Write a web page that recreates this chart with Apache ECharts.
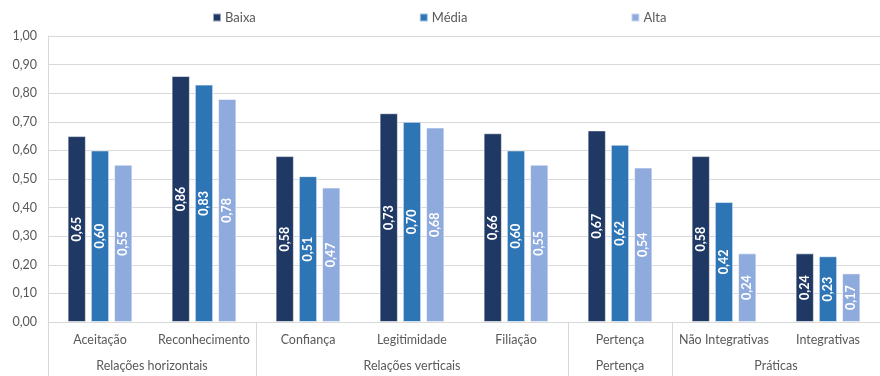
<!DOCTYPE html>
<html>
<head>
<meta charset="utf-8">
<script src="https://cdn.jsdelivr.net/npm/echarts@6/dist/echarts.min.js"></script>
<style>
  html, body { margin: 0; padding: 0; background: #fff; }
  #chart { width: 880px; height: 376px; }
</style>
</head>
<body>
<div id="chart"></div>
<script>
// Subcategories along the x axis and the group each one belongs to
const categories = ['Aceitação', 'Reconhecimento', 'Confiança', 'Legitimidade', 'Filiação', 'Pertença', 'Não Integrativas', 'Integrativas'];
const groupNames = ['Relações horizontais', 'Relações verticais', 'Pertença', 'Práticas'];
const groupSizes = [2, 3, 1, 2];

// Series values
const seriesNames = ['Baixa', 'Média', 'Alta'];
const baixa = [0.65, 0.86, 0.58, 0.73, 0.66, 0.67, 0.58, 0.24];
const media = [0.60, 0.83, 0.51, 0.70, 0.60, 0.62, 0.42, 0.23];
const alta  = [0.55, 0.78, 0.47, 0.68, 0.55, 0.54, 0.24, 0.17];

// Y-axis ticks
const yTicks = [0, 0.1, 0.2, 0.3, 0.4, 0.5, 0.6, 0.7, 0.8, 0.9, 1.0];

const colors = ['#203864', '#2E75B6', '#8FAADC'];
const FONT = 'Lato';
const GREY = '#595959';
const LINE = '#D9D9D9';

// Group boundaries and centers in category units
const groupBounds = [0];
const groupCenters = [];
groupSizes.forEach(function (n) {
  const start = groupBounds[groupBounds.length - 1];
  groupCenters.push(start + n / 2);
  groupBounds.push(start + n);
});

const fmt = function (v) { return v.toFixed(2).replace('.', ','); };

const chart = echarts.init(document.getElementById('chart'), null, { renderer: 'canvas' });

const makeSeries = function (name, data, color) {
  return {
    name: name,
    type: 'bar',
    xAxisIndex: 0,
    data: data,
    barWidth: 18.3,
    barGap: '27%',
    itemStyle: { color: color, borderColor: 'rgba(255,255,255,0.55)', borderWidth: 1 },
    label: {
      show: true,
      position: 'inside',
      rotate: 90,
      color: '#fff',
      fontFamily: FONT,
      fontSize: 12.5,
      fontWeight: 'bold',
      formatter: function (p) { return fmt(p.value); }
    },
    emphasis: { disabled: true }
  };
};

chart.setOption({
  animation: false,
  textStyle: { fontFamily: FONT },
  legend: {
    data: seriesNames,
    left: 207,
    top: 6,
    itemWidth: 8,
    itemHeight: 8,
    itemGap: 163,
    icon: 'rect',
    textStyle: { color: GREY, fontSize: 13, fontFamily: FONT, padding: [0, 0, 0, -1] }
  },
  grid: { left: 48, top: 36, width: 840, height: 286, containLabel: false },
  xAxis: [
    {
      type: 'category',
      data: categories,
      position: 'bottom',
      axisLine: { show: true, lineStyle: { color: LINE, width: 1 } },
      axisTick: { show: false },
      axisLabel: { color: GREY, fontSize: 12.5, fontFamily: FONT, margin: 11, interval: 0 },
      splitLine: { show: false }
    },
    {
      type: 'value',
      min: 0,
      max: categories.length,
      position: 'bottom',
      axisLine: { show: false },
      axisTick: {
        show: true,
        length: 54,
        customValues: groupBounds,
        lineStyle: { color: LINE, width: 1 }
      },
      axisLabel: {
        show: true,
        customValues: groupCenters,
        margin: 37,
        color: GREY,
        fontSize: 12.5,
        fontFamily: FONT,
        formatter: function (v) {
          const i = groupCenters.indexOf(v);
          return i >= 0 ? groupNames[i] : '';
        }
      },
      splitLine: { show: false }
    }
  ],
  yAxis: {
    type: 'value',
    min: yTicks[0],
    max: yTicks[yTicks.length - 1],
    interval: 0.1,
    axisLine: { show: true, lineStyle: { color: LINE, width: 1 } },
    axisTick: { show: false },
    axisLabel: { color: GREY, fontSize: 12.5, fontFamily: FONT, margin: 11, formatter: fmt },
    splitLine: { show: true, lineStyle: { color: LINE, width: 1 } }
  },
  series: [
    makeSeries(seriesNames[0], baixa, colors[0]),
    makeSeries(seriesNames[1], media, colors[1]),
    makeSeries(seriesNames[2], alta, colors[2])
  ]
});
</script>
</body>
</html>
